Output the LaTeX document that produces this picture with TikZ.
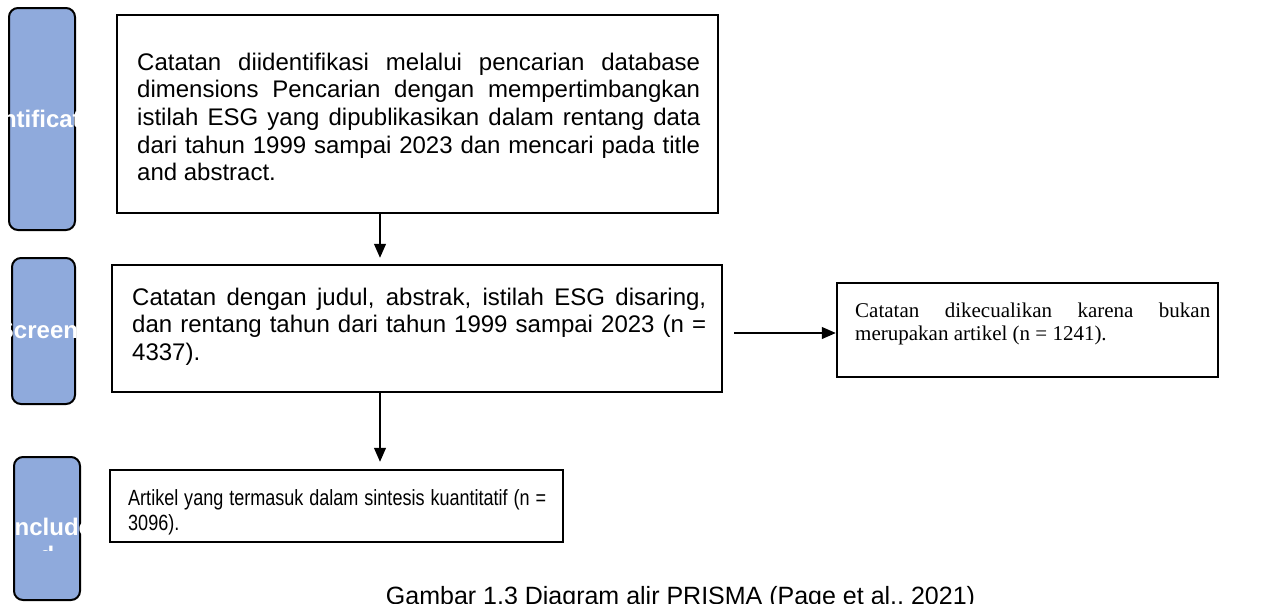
\documentclass[tikz,border=0pt]{standalone}
\usepackage{fontspec}
\setmainfont{Liberation Sans}
\newfontfamily\timesf{Liberation Serif}
\newfontfamily\narrowf[FakeStretch=0.82]{Liberation Sans}
\usetikzlibrary{arrows.meta}
\definecolor{stagefill}{HTML}{8FAADC}
\begin{document}
\begin{tikzpicture}[x=1pt,y=-1pt,
  stagebox/.style={draw=black, line width=2pt, fill=stagefill, rounded corners=9pt, inner sep=0},
  stagelabel/.style={text=white, font=\bfseries\fontsize{24}{27.6}\selectfont, inner sep=0, anchor=base},
  flowbox/.style={draw=black, line width=2.5pt, inner sep=0},
  bodytext/.style={inner sep=0, anchor=north west, align=justify},
  flowarrow/.style={line width=1.2pt, -{Triangle[length=14pt,width=12pt]}}]
\useasboundingbox (0,0) rectangle (1263,603);
% stage boxes
\node[stagebox, minimum width=66pt, minimum height=222pt] (s1) at (42,119) {};
\node[stagebox, minimum width=63pt, minimum height=146pt] (s2) at (43.5,331) {};
\node[stagebox, minimum width=66pt, minimum height=143pt] (s3) at (47,528.5) {};
\node[stagelabel] (l1) at (42,127.6) {Identification};
\node[stagelabel] (l2) at (56,338) {Screening};
\node[stagelabel] (l3) at (50,535.5) {Include};
\begin{scope}
  \clip (30,540) rectangle (70,550);
  \node[stagelabel] (l3b) at (47,563) {d};
\end{scope}
% flow boxes
\node[flowbox, minimum width=601pt, minimum height=198pt] (A) at (417.5,114) {};
\node[flowbox, minimum width=610pt, minimum height=127pt] (B) at (417,328.5) {};
\node[flowbox, minimum width=381pt, minimum height=94pt] (C) at (1027.5,330) {};
\node[flowbox, minimum width=453pt, minimum height=72pt] (D) at (336.5,506) {};
% texts
\node[bodytext, text width=563pt, font=\fontsize{24}{27.6}\selectfont] (At) at (137,50.7)
  {\strut Catatan diidentifikasi melalui pencarian database\linebreak
   dimensions Pencarian dengan mempertimbangkan\linebreak
   istilah ESG yang dipublikasikan dalam rentang data\linebreak
   dari tahun 1999 sampai 2023 dan mencari pada title\linebreak
   and abstract.};
\node[bodytext, text width=574pt, font=\fontsize{24}{27.6}\selectfont] (Bt) at (132,285.7)
  {\strut Catatan dengan judul, abstrak, istilah ESG disaring,\linebreak
   dan rentang tahun dari tahun 1999 sampai 2023 (n =\linebreak
   4337).};
\node[bodytext, text width=355pt, font=\timesf\fontsize{21}{23}\selectfont] (Ct) at (855,300.9)
  {\strut Catatan dikecualikan karena bukan\linebreak
   merupakan artikel (n = 1241).};
\node[bodytext, text width=418pt, font=\narrowf\fontsize{22}{25}\selectfont] (Dt) at (128,487.5)
  {\strut Artikel yang termasuk dalam sintesis kuantitatif (n =\linebreak
   3096).};
\node[anchor=base, inner sep=0, font=\fontsize{25}{30}\selectfont] (cap) at (680.5,604)
  {Gambar 1.3 Diagram alir PRISMA (Page et al., 2021)};
% connectors
\coordinate (ax) at (380,0);
\coordinate (bcy) at (0,333);
\draw[flowarrow] (A.south -| ax) -- ([yshift=6pt]B.north -| ax);
\draw[flowarrow] (B.south -| ax) -- ([yshift=7pt]D.north -| ax);
\draw[flowarrow] ([xshift=11pt]B.east |- bcy) -- (C.west |- bcy);
\end{tikzpicture}
\end{document}
